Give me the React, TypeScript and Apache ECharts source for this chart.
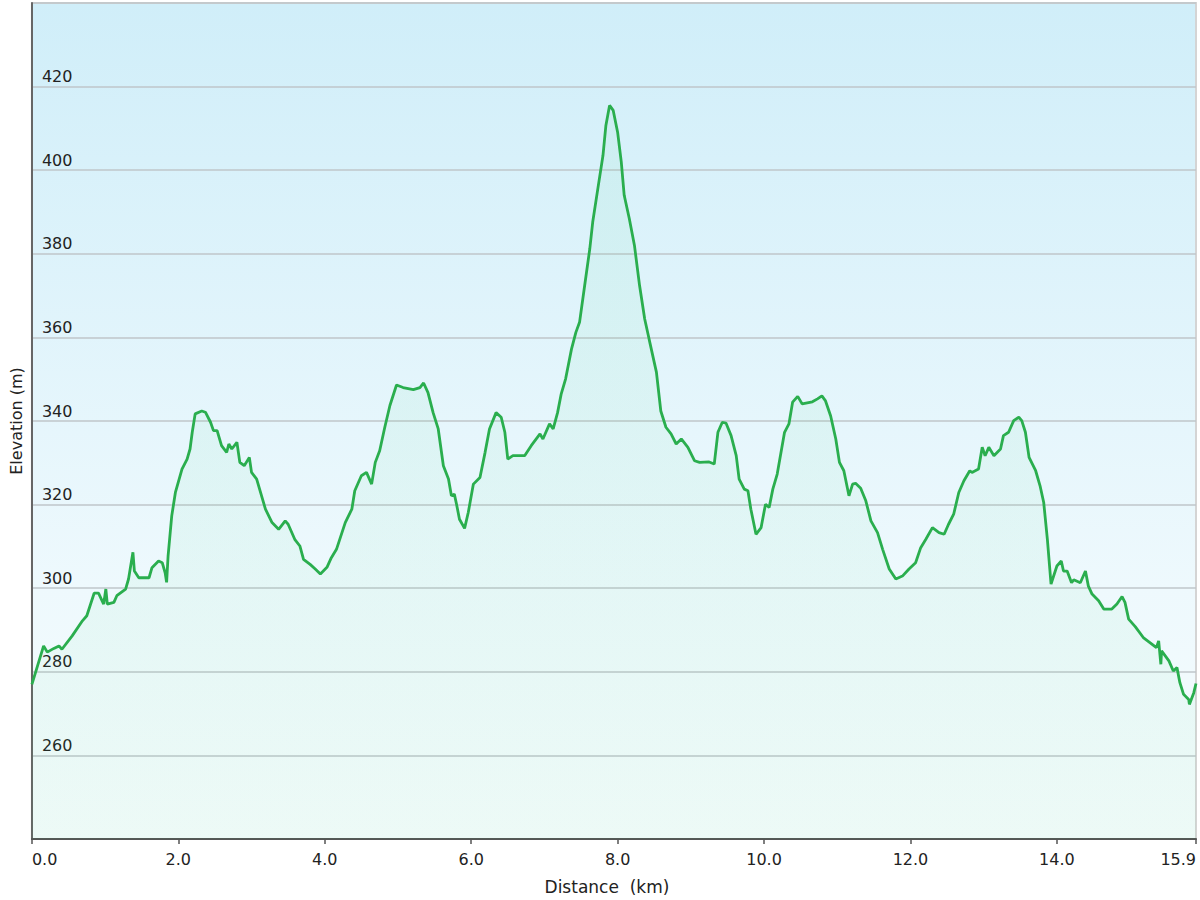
import React, { useEffect, useRef } from "react";
import * as echarts from "echarts";

const distanceKm: number[] = [
  0.0, 0.16, 0.21, 0.3, 0.37, 0.41, 0.55, 0.69, 0.75, 0.85, 0.91, 0.98, 1.01, 1.03, 1.12, 1.16, 1.28, 1.32, 1.38, 1.4,
  1.46, 1.6, 1.64, 1.73, 1.78, 1.82, 1.84, 1.86, 1.91, 1.96, 2.05, 2.12, 2.16, 2.19, 2.23, 2.32, 2.37, 2.44, 2.48, 2.53,
  2.59, 2.66, 2.69, 2.73, 2.8, 2.84, 2.9, 2.97, 3.0, 3.07, 3.19, 3.28, 3.37, 3.46, 3.5, 3.59, 3.66, 3.71, 3.8, 3.87,
  3.94, 4.03, 4.09, 4.16, 4.28, 4.37, 4.41, 4.5, 4.57, 4.64, 4.69, 4.75, 4.82, 4.89, 4.98, 5.07, 5.21, 5.3, 5.35, 5.41,
  5.48, 5.55, 5.62, 5.69, 5.73, 5.77, 5.8, 5.84, 5.91, 5.96, 6.03, 6.12, 6.19, 6.25, 6.34, 6.41, 6.46, 6.5, 6.57, 6.73,
  6.82, 6.94, 6.98, 7.07, 7.12, 7.18, 7.23, 7.29, 7.37, 7.43, 7.48, 7.55, 7.62, 7.66, 7.73, 7.8, 7.84, 7.89, 7.94, 8.0,
  8.05, 8.09, 8.16, 8.23, 8.3, 8.37, 8.43, 8.53, 8.59, 8.66, 8.73, 8.8, 8.87, 8.96, 9.05, 9.12, 9.25, 9.32, 9.37, 9.43,
  9.48, 9.55, 9.62, 9.66, 9.73, 9.78, 9.82, 9.89, 9.96, 10.02, 10.07, 10.12, 10.18, 10.28, 10.34, 10.39, 10.46, 10.52, 10.66, 10.73,
  10.79, 10.84, 10.91, 10.98, 11.03, 11.09, 11.16, 11.21, 11.25, 11.32, 11.39, 11.46, 11.55, 11.62, 11.71, 11.8, 11.89, 11.98, 12.07, 12.14,
  12.21, 12.3, 12.39, 12.46, 12.52, 12.59, 12.66, 12.73, 12.81, 12.84, 12.93, 12.98, 13.02, 13.07, 13.14, 13.23, 13.27, 13.34, 13.41, 13.48,
  13.52, 13.57, 13.62, 13.71, 13.77, 13.82, 13.87, 13.92, 14.0, 14.06, 14.09, 14.14, 14.2, 14.23, 14.32, 14.39, 14.43, 14.48, 14.57, 14.64,
  14.75, 14.82, 14.89, 14.93, 14.98, 15.07, 15.18, 15.27, 15.36, 15.39, 15.42, 15.43, 15.53, 15.59, 15.64, 15.68, 15.73, 15.8, 15.81, 15.87,
  15.9,
];

const elevationM: number[] = [
  277.0, 286.2, 284.7, 285.6, 286.2, 285.4, 288.6, 292.2, 293.4, 298.8, 298.8, 296.2, 299.8, 296.2, 296.6, 298.2, 299.8, 302.2, 308.6, 304.1,
  302.5, 302.5, 304.9, 306.5, 306.1, 303.7, 301.4, 307.7, 317.3, 322.9, 328.5, 330.9, 333.3, 337.3, 341.7, 342.4, 342.1, 339.7, 337.7, 337.7,
  334.1, 332.5, 334.5, 333.3, 334.9, 330.1, 329.3, 331.3, 327.7, 326.1, 318.9, 315.7, 314.1, 316.1, 315.3, 311.7, 310.1, 306.9, 305.7, 304.6,
  303.4, 305.0, 307.3, 309.3, 315.7, 318.9, 323.3, 326.9, 327.7, 324.9, 330.1, 332.9, 338.5, 343.7, 348.6, 348.0, 347.5, 348.0, 349.1, 346.8,
  342.0, 338.1, 329.3, 326.1, 322.1, 322.5, 320.1, 316.5, 314.3, 318.1, 324.9, 326.5, 332.5, 338.1, 342.0, 340.9, 337.3, 330.9, 331.7, 331.7,
  334.1, 336.9, 335.7, 339.3, 338.1, 342.0, 346.5, 350.1, 357.2, 361.2, 363.6, 372.4, 381.2, 387.6, 395.6, 403.5, 410.7, 415.5, 414.3, 409.1,
  402.0, 394.0, 388.4, 382.0, 372.4, 364.4, 359.6, 351.7, 342.4, 338.5, 336.9, 334.5, 335.7, 333.7, 330.5, 330.1, 330.2, 329.7, 337.3, 339.7,
  339.5, 336.5, 331.7, 326.1, 323.7, 323.3, 318.9, 312.9, 314.5, 320.1, 319.3, 323.7, 327.3, 337.3, 339.3, 344.5, 345.9, 344.1, 344.6, 345.3,
  346.0, 344.8, 341.2, 335.7, 330.1, 328.1, 322.1, 324.9, 325.1, 323.9, 320.9, 316.1, 313.3, 309.3, 304.6, 302.2, 302.9, 304.6, 306.1, 309.7,
  311.7, 314.5, 313.3, 312.9, 315.3, 317.7, 322.9, 325.7, 328.1, 327.7, 328.5, 333.7, 331.7, 333.7, 331.7, 333.3, 336.5, 337.3, 340.1, 340.9,
  340.1, 337.3, 331.3, 328.1, 324.5, 320.5, 311.7, 301.0, 305.3, 306.5, 304.1, 304.1, 301.3, 302.0, 301.3, 304.1, 300.5, 298.6, 297.0, 295.0,
  295.0, 296.2, 298.0, 296.6, 292.6, 290.8, 288.2, 287.0, 285.8, 287.4, 281.8, 285.0, 282.6, 280.2, 281.0, 277.4, 274.6, 273.4, 272.2, 275.0,
  277.2,
];

const distanceTicks: number[] = [0, 2, 4, 6, 8, 10, 12, 14, 15.9];

const xAxisTitle = "Distance  (km)";
const yAxisTitle = "Elevation (m)";

export default function App() {
  const ref = useRef<HTMLDivElement>(null);

  useEffect(() => {
    if (!ref.current) return;
    const chart = echarts.init(ref.current, null, { renderer: "svg" });
    const points = distanceKm.map((d, i) => [d, elevationM[i]]);
    const font = "'DejaVu Sans', Verdana, sans-serif";

    chart.setOption({
      animation: false,
      backgroundColor: "#ffffff",
      grid: {
        left: 28,
        right: 4,
        top: 3,
        bottom: 60,
        containLabel: false,
        show: true,
        borderColor: "#d4d4d4",
        borderWidth: 2,
        backgroundColor: new echarts.graphic.LinearGradient(0, 0, 0, 1, [
          { offset: 0, color: "#d0eef9" },
          { offset: 0.7, color: "#eef9fd" },
          { offset: 1, color: "#f6fcfd" },
        ]),
      },
      xAxis: {
        type: "value",
        min: 0,
        max: 15.9,
        interval: 2,
        name: xAxisTitle,
        nameLocation: "middle",
        nameGap: 39,
        nameTextStyle: {
          fontFamily: font,
          fontSize: 17,
          color: "#222",
          padding: [0, 14, 0, 0],
        },
        axisLine: { show: true, lineStyle: { color: "#555", width: 2 } },
        axisTick: {
          show: true,
          length: 5,
          customValues: distanceTicks,
          lineStyle: { color: "#555", width: 1.5 },
        },
        axisLabel: {
          customValues: distanceTicks,
          formatter: (v: number) => v.toFixed(1),
          fontFamily: font,
          fontSize: 16,
          color: "#222",
          margin: 12,
          alignMinLabel: "left",
          alignMaxLabel: "right",
        },
        splitLine: { show: false },
      },
      yAxis: {
        type: "value",
        min: 240,
        max: 440,
        interval: 20,
        name: yAxisTitle,
        nameLocation: "middle",
        nameGap: 6,
        nameTextStyle: { fontFamily: font, fontSize: 16, color: "#222" },
        axisLine: { show: true, lineStyle: { color: "#666", width: 2 } },
        axisTick: { show: false },
        axisLabel: {
          inside: true,
          margin: 10,
          showMinLabel: false,
          showMaxLabel: false,
          verticalAlign: "bottom",
          padding: [0, 0, 2, 0],
          fontFamily: font,
          fontSize: 16,
          color: "#222",
        },
        splitLine: { show: true, lineStyle: { color: "#bfc6ca", width: 1.5 } },
      },
      series: [
        {
          type: "line",
          data: points,
          symbol: "none",
          smooth: false,
          lineStyle: { color: "#2aae4e", width: 2.8 },
          areaStyle: {
            color: new echarts.graphic.LinearGradient(0, 0, 0, 1, [
              { offset: 0, color: "rgba(60,210,120,0.09)" },
              { offset: 1, color: "rgba(60,210,120,0.07)" },
            ]),
          },
        },
      ],
    });

    return () => chart.dispose();
  }, []);

  return (
    <div
      ref={ref}
      style={{ position: "absolute", left: 0, top: 0, width: 1200, height: 900 }}
    />
  );
}
